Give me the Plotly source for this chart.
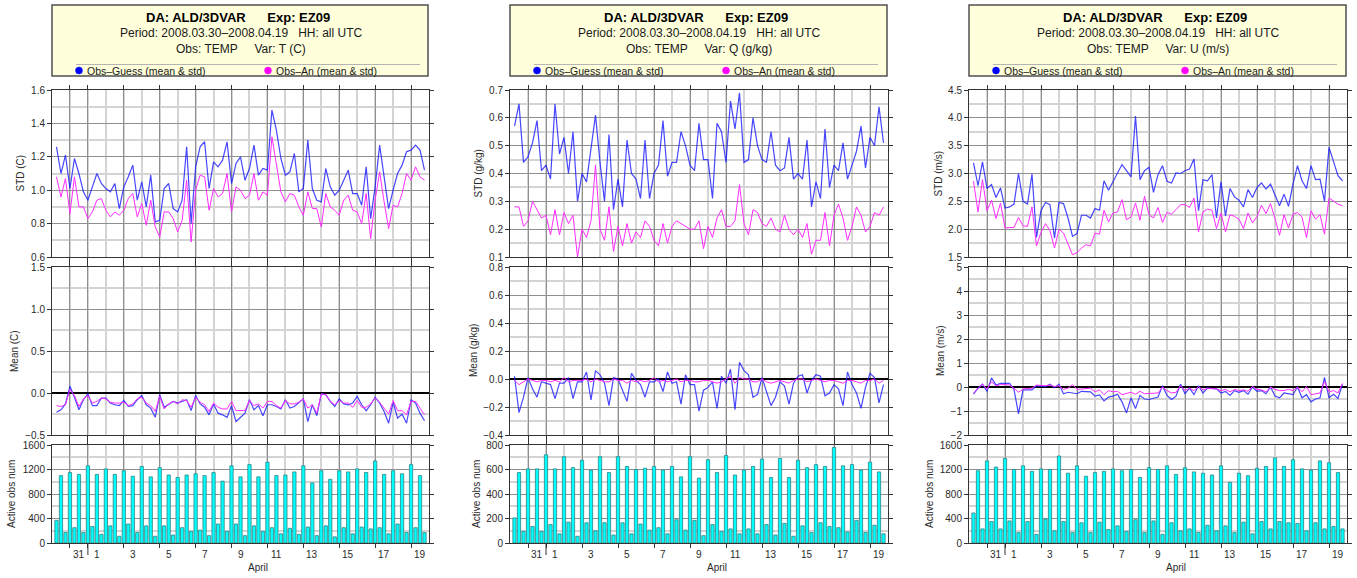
import pandas as pd
import plotly.graph_objects as go

W, H = 1357, 578
FONT = "Liberation Sans, Arial, Helvetica, sans-serif"

# 6-hourly analysis times: 2008-03-30 06 UTC .. 2008-04-19 18 UTC
times = pd.date_range("2008-03-30 06:00", "2008-04-19 18:00", freq="6h")

# ---------------- T (C) ----------------
t_std_og = [1.26, 1.10, 1.21, 1.01, 1.19, 1.10, 0.99, 0.94, 1.02, 1.10,
            1.04, 1.01, 0.99, 1.04, 0.89, 1.02, 1.08, 1.15, 0.94, 1.05,
            0.90, 1.09, 0.81, 0.82, 1.01, 1.04, 0.89, 0.87, 0.94, 1.26,
            0.80, 1.14, 1.26, 1.29, 1.01, 1.17, 1.14, 1.18, 1.29, 1.04,
            1.16, 1.20, 1.06, 1.13, 1.27, 1.09, 1.13, 1.12, 1.48, 1.36,
            1.19, 1.09, 1.11, 1.22, 0.99, 1.01, 1.30, 1.01, 0.94, 0.93,
            1.13, 1.02, 0.97, 1.00, 1.06, 1.12, 0.98, 0.98, 0.91, 1.14,
            0.83, 1.02, 1.27, 1.09, 0.89, 1.00, 1.10, 1.15, 1.23, 1.24,
            1.27, 1.24, 1.12]
t_std_oa = [1.08, 0.96, 1.07, 0.86, 1.08, 0.90, 0.90, 0.83, 0.87, 0.94,
            0.95, 0.88, 0.84, 0.87, 0.85, 0.88, 0.95, 0.98, 0.84, 0.92,
            0.79, 0.94, 0.78, 0.72, 0.87, 0.87, 0.83, 0.75, 0.82, 1.06,
            0.69, 1.00, 1.09, 1.08, 0.88, 1.01, 0.96, 0.98, 1.10, 0.87,
            1.02, 1.00, 0.95, 0.97, 1.10, 0.94, 0.99, 0.97, 1.32, 1.14,
            0.99, 0.93, 0.98, 0.97, 0.90, 0.85, 0.99, 0.89, 0.89, 0.78,
            0.98, 0.90, 0.88, 0.85, 0.94, 0.97, 0.88, 0.87, 0.80, 0.98,
            0.71, 0.94, 1.11, 0.93, 0.77, 0.91, 0.90, 0.98, 1.10, 1.06,
            1.14, 1.08, 1.06]
t_mean_og = [-0.23, -0.20, -0.13, 0.08, -0.05, -0.20, -0.08, -0.01, -0.15, -0.15,
             -0.06, -0.06, -0.12, -0.14, -0.15, -0.09, -0.16, -0.15, -0.08, -0.03,
             -0.14, -0.18, -0.29, -0.02, -0.17, -0.13, -0.10, -0.12, -0.10, -0.08,
             -0.21, -0.03, -0.13, -0.17, -0.26, -0.13, -0.24, -0.26, -0.29, -0.15,
             -0.34, -0.29, -0.24, -0.08, -0.20, -0.15, -0.27, -0.14, -0.14, -0.16,
             -0.19, -0.08, -0.18, -0.16, -0.12, -0.07, -0.34, -0.14, -0.27, -0.01,
             -0.02, -0.10, -0.16, -0.07, -0.13, -0.14, -0.12, -0.04, -0.14, -0.21,
             -0.14, -0.05, -0.12, -0.22, -0.36, -0.11, -0.30, -0.25, -0.36, -0.08,
             -0.12, -0.24, -0.33]
t_mean_oa = [-0.15, -0.16, -0.14, 0.04, -0.03, -0.16, -0.07, -0.03, -0.12, -0.10,
             -0.06, -0.07, -0.11, -0.12, -0.12, -0.11, -0.15, -0.13, -0.07, -0.05,
             -0.12, -0.15, -0.22, -0.04, -0.19, -0.13, -0.10, -0.13, -0.08, -0.09,
             -0.17, -0.05, -0.11, -0.14, -0.22, -0.12, -0.17, -0.19, -0.19, -0.10,
             -0.21, -0.21, -0.21, -0.09, -0.15, -0.13, -0.18, -0.10, -0.10, -0.15,
             -0.18, -0.09, -0.13, -0.13, -0.11, -0.07, -0.18, -0.14, -0.24, -0.01,
             -0.02, -0.10, -0.14, -0.09, -0.12, -0.12, -0.17, -0.09, -0.17, -0.17,
             -0.13, -0.06, -0.11, -0.18, -0.25, -0.09, -0.21, -0.21, -0.26, -0.10,
             -0.10, -0.18, -0.26]
t_nobs = [370, 1100, 170, 1150, 250, 1120, 170, 1260, 270, 1120,
          140, 1210, 280, 1120, 110, 1180, 310, 1090, 170, 1250,
          280, 1080, 110, 1230, 280, 1110, 130, 1070, 250, 1110,
          190, 1130, 210, 1100, 120, 1150, 310, 1010, 190, 1260,
          310, 1080, 120, 1280, 280, 1080, 190, 1320, 250, 1100,
          150, 1110, 240, 1160, 140, 1260, 260, 980, 120, 1180,
          280, 1040, 100, 1180, 250, 1160, 150, 1210, 260, 1150,
          230, 1340, 250, 1120, 150, 1180, 310, 1130, 170, 1280,
          250, 1100, 170]

# ---------------- Q (g/kg) ----------------
q_std_og = [0.57, 0.65, 0.44, 0.46, 0.51, 0.59, 0.41, 0.43, 0.38, 0.65,
            0.47, 0.53, 0.40, 0.55, 0.30, 0.40, 0.37, 0.50, 0.61, 0.44,
            0.30, 0.54, 0.27, 0.38, 0.28, 0.52, 0.40, 0.38, 0.31, 0.52,
            0.31, 0.40, 0.43, 0.59, 0.39, 0.44, 0.44, 0.55, 0.50, 0.43,
            0.41, 0.58, 0.45, 0.45, 0.31, 0.58, 0.55, 0.44, 0.66, 0.56,
            0.69, 0.44, 0.45, 0.60, 0.50, 0.45, 0.44, 0.55, 0.43, 0.41,
            0.42, 0.53, 0.38, 0.40, 0.38, 0.52, 0.28, 0.37, 0.31, 0.56,
            0.35, 0.43, 0.41, 0.51, 0.38, 0.43, 0.48, 0.57, 0.42, 0.53,
            0.50, 0.64, 0.51]
q_std_oa = [0.28, 0.28, 0.21, 0.23, 0.30, 0.27, 0.24, 0.25, 0.18, 0.27,
            0.18, 0.26, 0.22, 0.25, 0.10, 0.20, 0.17, 0.23, 0.43, 0.20,
            0.16, 0.28, 0.12, 0.21, 0.14, 0.22, 0.15, 0.19, 0.17, 0.23,
            0.21, 0.16, 0.14, 0.22, 0.15, 0.21, 0.23, 0.22, 0.21, 0.20,
            0.20, 0.23, 0.13, 0.21, 0.17, 0.24, 0.27, 0.21, 0.21, 0.23,
            0.36, 0.22, 0.18, 0.27, 0.26, 0.22, 0.21, 0.24, 0.20, 0.19,
            0.25, 0.20, 0.18, 0.20, 0.17, 0.22, 0.11, 0.16, 0.16, 0.26,
            0.14, 0.25, 0.29, 0.24, 0.16, 0.21, 0.28, 0.25, 0.19, 0.21,
            0.26, 0.25, 0.28]
q_mean_og = [0.02, -0.24, -0.13, 0.01, -0.07, -0.13, -0.02, -0.03, -0.04, -0.14,
             -0.03, -0.03, 0.01, -0.14, -0.02, -0.02, 0.05, -0.15, 0.06, 0.03,
             -0.03, -0.19, 0.01, 0.00, -0.08, -0.16, 0.04, -0.01, -0.04, -0.13,
             -0.02, -0.02, 0.00, -0.09, 0.05, -0.03, -0.02, -0.18, 0.03, -0.04,
             -0.04, -0.23, -0.08, -0.06, -0.02, -0.21, 0.02, -0.03, 0.07, -0.22,
             0.12, 0.06, 0.03, -0.13, -0.11, 0.01, -0.09, -0.19, -0.13, -0.02,
             -0.05, -0.18, -0.03, 0.02, 0.03, -0.10, -0.01, 0.03, 0.02, -0.12,
             -0.10, -0.04, -0.07, -0.19, 0.05, -0.04, -0.10, -0.21, -0.06, 0.04,
             0.01, -0.17, -0.04]
q_mean_oa = [-0.01, -0.04, -0.02, 0.00, -0.01, -0.02, -0.01, -0.01, -0.02, -0.01,
             -0.02, 0.01, -0.02, -0.01, -0.01, -0.01, 0.00, -0.02, 0.00, -0.01,
             -0.02, -0.02, 0.00, -0.01, -0.01, -0.03, -0.01, -0.02, -0.01, -0.02,
             -0.01, 0.01, -0.02, -0.01, -0.02, -0.01, 0.00, -0.02, -0.01, -0.01,
             -0.02, -0.02, -0.01, -0.01, -0.02, -0.03, -0.02, 0.00, 0.02, -0.03,
             0.01, 0.00, 0.00, -0.02, -0.02, 0.00, -0.02, -0.03, -0.02, -0.01,
             -0.02, -0.03, -0.01, 0.00, 0.00, -0.02, -0.01, 0.00, -0.01, -0.02,
             -0.01, -0.01, -0.02, -0.03, -0.01, -0.01, -0.02, -0.03, -0.01, -0.01,
             0.00, -0.03, -0.01]
q_nobs = [205, 575, 95, 605, 135, 605, 95, 720, 150, 605,
          75, 705, 170, 615, 55, 675, 165, 595, 100, 705,
          165, 575, 65, 705, 165, 625, 75, 600, 155, 610,
          105, 625, 125, 595, 75, 625, 190, 540, 105, 705,
          185, 530, 60, 680, 150, 575, 95, 715, 115, 555,
          75, 595, 115, 625, 75, 685, 150, 535, 65, 690,
          160, 535, 55, 675, 140, 615, 85, 640, 165, 625,
          135, 780, 125, 630, 90, 640, 185, 595, 85, 660,
          145, 580, 75]

# ---------------- U (m/s) ----------------
u_std_og = [3.19, 2.78, 3.21, 2.73, 2.80, 2.57, 2.74, 2.38, 2.40, 2.45,
            3.00, 2.50, 2.45, 2.99, 1.85, 2.33, 2.48, 2.44, 1.84, 2.48,
            2.46, 2.20, 1.87, 1.92, 2.25, 2.25, 2.20, 2.37, 2.34, 2.87,
            2.70, 2.85, 3.00, 3.16, 3.05, 2.94, 4.03, 2.89, 3.05, 3.11,
            2.66, 2.98, 3.14, 2.86, 2.83, 3.01, 3.00, 3.05, 3.08, 3.26,
            2.33, 2.89, 2.87, 2.98, 2.20, 2.85, 2.24, 2.73, 2.58, 2.52,
            2.40, 2.71, 2.57, 2.75, 2.83, 2.72, 2.81, 2.62, 2.42, 2.63,
            2.41, 2.81, 3.14, 2.87, 2.73, 3.14, 2.89, 2.90, 2.50, 3.47,
            3.22, 2.96, 2.87]
u_std_oa = [2.86, 2.31, 2.89, 2.33, 2.52, 2.19, 2.47, 2.02, 2.03, 2.03,
            2.21, 2.06, 2.05, 2.40, 1.70, 1.94, 2.10, 1.97, 1.66, 2.00,
            1.93, 1.75, 1.54, 1.58, 1.66, 1.72, 1.70, 1.93, 1.91, 2.34,
            2.13, 2.29, 2.31, 2.53, 2.17, 2.22, 2.47, 2.16, 2.59, 2.26,
            2.20, 2.39, 2.12, 2.30, 2.27, 2.35, 2.44, 2.44, 2.39, 2.56,
            1.95, 2.31, 2.36, 2.34, 2.01, 2.29, 1.95, 2.26, 2.23, 2.18,
            2.01, 2.29, 2.11, 2.23, 2.43, 2.28, 2.46, 2.19, 1.89, 2.26,
            2.02, 2.27, 2.30, 2.22, 1.85, 2.33, 2.18, 2.26, 1.91, 2.56,
            2.51, 2.45, 2.42]
u_mean_og = [-0.30, -0.05, 0.12, -0.18, 0.38, 0.08, 0.15, 0.15, 0.15, -0.10,
             -1.12, -0.12, -0.12, -0.12, 0.05, 0.03, 0.02, 0.12, -0.03, 0.12,
             -0.28, -0.22, -0.25, -0.28, -0.18, -0.18, -0.20, -0.38, -0.33, -0.58,
             -0.42, -0.38, -0.30, -0.62, -1.08, -0.45, -0.90, -0.35, -0.50, -0.52,
             -0.48, -0.42, 0.05, -0.35, -0.52, -0.38, 0.12, -0.28, -0.05, -0.32,
             0.05, -0.25, -0.05, -0.08, -0.08, -0.25, -0.18, -0.35, -0.15, -0.22,
             -0.15, -0.30, 0.00, -0.18, -0.15, -0.28, 0.00, -0.38, -0.45, -0.25,
             -0.28, -0.32, 0.00, -0.45, -0.32, -0.62, -0.50, -0.45, 0.40, -0.45,
             -0.30, -0.48, 0.12]
u_mean_oa = [-0.25, -0.05, 0.12, -0.10, 0.22, 0.05, 0.10, 0.10, 0.08, -0.05,
             -0.22, -0.08, -0.08, -0.05, 0.08, 0.05, 0.05, 0.08, 0.02, 0.05,
             -0.10, -0.05, 0.10, -0.10, -0.08, -0.05, -0.05, -0.20, -0.12, -0.32,
             -0.15, -0.20, -0.18, -0.32, -0.28, -0.22, -0.30, -0.18, -0.28, -0.28,
             -0.25, -0.25, 0.00, -0.15, -0.25, -0.22, 0.05, -0.15, -0.05, -0.15,
             0.02, -0.12, -0.05, -0.05, -0.08, -0.15, -0.10, -0.20, -0.10, -0.15,
             -0.12, -0.18, 0.02, -0.10, -0.12, -0.20, 0.00, -0.10, -0.15, -0.15,
             -0.10, -0.15, 0.00, -0.20, 0.02, -0.32, -0.28, -0.25, 0.22, -0.20,
             -0.15, -0.25, 0.15]
u_nobs = [490, 1180, 230, 1340, 350, 1240, 230, 1380, 360, 1200,
          170, 1260, 350, 1170, 140, 1210, 390, 1200, 200, 1420,
          350, 1140, 170, 1260, 330, 1090, 170, 1150, 340, 1170,
          220, 1210, 280, 1180, 190, 1200, 380, 1070, 170, 1230,
          360, 1200, 140, 1260, 330, 1120, 200, 1230, 230, 1160,
          170, 1140, 290, 1110, 200, 1260, 280, 990, 170, 1140,
          340, 1100, 150, 1220, 350, 1250, 230, 1390, 350, 1250,
          330, 1360, 320, 1210, 200, 1190, 330, 1340, 230, 1310,
          270, 1150, 230]

# day ticks on the time axis and their labels
tick_days = ["2008-03-31", "2008-04-01"] + [f"2008-04-{d:02d}" for d in range(3, 20, 2)]
tick_labels = ["31", "1"] + [str(d) for d in range(3, 20, 2)]

# ---------------- styling ----------------
BLUE = "rgba(25,25,255,0.80)"
MAGENTA = "#ff2bff"
MAJOR_GRID = "#8f8f8f"
MINOR_GRID = "#d4d4d4"
AXIS = "#333333"
TXT = "#2a2a2a"

panels = [
    dict(var="T (C)", unit="C",
         series=((t_std_og, t_std_oa), (t_mean_og, t_mean_oa), t_nobs),
         axes=((0.6, 1.6, 0.2, 0.1, ".1f"), (-0.5, 1.5, 0.5, 0.25, ".1f"), (0, 1600, 400, 200, "d")),
         left=52, right=429, title_off=(32, 38, 41)),
    dict(var="Q (g/kg)", unit="g/kg",
         series=((q_std_og, q_std_oa), (q_mean_og, q_mean_oa), q_nobs),
         axes=((0.1, 0.7, 0.1, 0.05, ".1f"), (-0.4, 0.8, 0.2, 0.1, ".1f"), (0, 800, 200, 100, "d")),
         left=510, right=888, title_off=(32, 37, 34)),
    dict(var="U (m/s)", unit="m/s",
         series=((u_std_og, u_std_oa), (u_mean_og, u_mean_oa), u_nobs),
         axes=((1.5, 4.5, 0.5, 0.25, ".1f"), (-2, 5, 1, 0.5, "d"), (0, 1600, 400, 200, "d")),
         left=969, right=1347, title_off=(31, 29, 40)),
]
rows = [(90, 257), (267, 435), (445, 543)]


def px(x):
    return x / W


def py(y):
    return 1 - y / H


fig = go.Figure()
layout = dict(
    width=W, height=H, margin=dict(l=0, r=0, t=0, b=0),
    paper_bgcolor="white", plot_bgcolor="white", template="none",
    showlegend=False, bargap=0.27,
    font=dict(family=FONT, size=10, color=TXT),
)
shapes, annotations = [], []
x_start, x_end = "2008-03-30 00:00", "2008-04-20 00:00"

for p, pan in enumerate(panels):
    L, R = pan["left"], pan["right"]
    for r, (top, bot) in enumerate(rows):
        k = 3 * p + r + 1
        sfx = "" if k == 1 else str(k)
        xa, ya = "x" + sfx, "y" + sfx
        lo, hi, dt, mdt, fmt = pan["axes"][r]
        eps = (hi - lo) * 1e-6
        layout["xaxis" + sfx] = dict(
            type="date", domain=[px(L), px(R)], anchor=ya, range=[x_start, x_end],
            tickmode="array", tickvals=tick_days, showticklabels=False,
            ticks="outside", ticklen=4, tickcolor=AXIS, tickwidth=1,
            showline=True, linecolor=AXIS, linewidth=1, mirror="ticks",
            showgrid=True, gridcolor=MAJOR_GRID, gridwidth=1, zeroline=False,
            minor=dict(tickmode="linear", tick0="2008-03-30", dtick=86400000,
                       showgrid=True, gridcolor=MINOR_GRID, gridwidth=1.5, ticks=""),
        )
        layout["yaxis" + sfx] = dict(
            domain=[py(bot), py(top)], anchor=xa, range=[lo - eps, hi + eps],
            tickmode="linear", tick0=lo, dtick=dt, tickformat=fmt,
            ticks="outside", ticklen=4, tickcolor=AXIS, tickwidth=1,
            tickfont=dict(family=FONT, size=10, color=TXT),
            showline=True, linecolor=AXIS, linewidth=1, mirror="ticks",
            showgrid=True, gridcolor=MAJOR_GRID, gridwidth=1,
            zeroline=(r == 1), zerolinecolor="black", zerolinewidth=2,
            minor=dict(tickmode="linear", tick0=lo, dtick=mdt,
                       showgrid=True, gridcolor=MINOR_GRID, gridwidth=1.5, ticks=""),
        )
        if r < 2:
            og, oa = pan["series"][r]
            fig.add_trace(go.Scatter(x=times, y=og, mode="lines", xaxis=xa, yaxis=ya,
                                     line=dict(color=BLUE, width=1.2), name="Obs–Guess"))
            fig.add_trace(go.Scatter(x=times, y=oa, mode="lines", xaxis=xa, yaxis=ya,
                                     line=dict(color=MAGENTA, width=1), name="Obs–An"))
        else:
            fig.add_trace(go.Bar(x=times, y=pan["series"][2], xaxis=xa, yaxis=ya,
                                 marker=dict(color="#00ffff", line=dict(color="#2c8484", width=0.8)),
                                 name="Active obs num"))
            # day labels under the bottom axis, centred on each day
            for d, lab in zip(tick_days, tick_labels):
                annotations.append(dict(
                    x=pd.Timestamp(d) + pd.Timedelta(hours=12), xref=xa, y=py(554), yref="paper",
                    text=lab, showarrow=False, font=dict(size=10, color=TXT),
                    xanchor="center", yanchor="middle"))
            annotations.append(dict(
                x=pd.Timestamp("2008-04-10 12:00"), xref=xa, y=py(567), yref="paper",
                text="April", showarrow=False, font=dict(size=10, color=TXT),
                xanchor="center", yanchor="middle"))
            # month boundary marker
            shapes.append(dict(type="line", xref=xa, yref="paper",
                               x0="2008-04-01", x1="2008-04-01", y0=py(543), y1=py(555),
                               line=dict(color=AXIS, width=1)))
        # y-axis titles
        ytitle = ["STD (%s)" % pan["unit"], "Mean (%s)" % pan["unit"], "Active obs num"][r]
        annotations.append(dict(
            x=px(L - pan["title_off"][r]), xref="paper", y=py((top + bot) / 2), yref="paper",
            text=ytitle, textangle=-90, showarrow=False,
            font=dict(size=10, color=TXT), xanchor="center", yanchor="middle"))

    # header box
    shapes.append(dict(type="rect", xref="paper", yref="paper",
                       x0=px(L), x1=px(R - 1), y0=py(76), y1=py(5),
                       fillcolor="#ffffdc", line=dict(color="#505050", width=1.5), layer="above"))
    shapes.append(dict(type="line", xref="paper", yref="paper",
                       x0=px(L + 24), x1=px(L + 368), y0=py(64.5), y1=py(64.5),
                       line=dict(color="#b4b4b4", width=1), layer="above"))
    cx = (L + R) / 2
    nb = "\u00a0"
    annotations.append(dict(x=px(cx - 3), y=py(17), xref="paper", yref="paper", showarrow=False,
                            text="<b>DA: ALD/3DVAR" + nb * 6 + "Exp: EZ09</b>",
                            font=dict(size=13, color="black"), xanchor="center", yanchor="middle"))
    annotations.append(dict(x=px(cx), y=py(33), xref="paper", yref="paper", showarrow=False,
                            text="Period: 2008.03.30–2008.04.19" + nb * 3 + "HH: all UTC",
                            font=dict(size=12, color="#1a1a1a"), xanchor="center", yanchor="middle"))
    annotations.append(dict(x=px(cx), y=py(49), xref="paper", yref="paper", showarrow=False,
                            text="Obs: TEMP" + nb * 5 + "Var: " + pan["var"],
                            font=dict(size=12, color="#1a1a1a"), xanchor="center", yanchor="middle"))
    for off, col, lab in ((27, "#0000ff", "Obs–Guess (mean & std)"),
                          (216, "#ff00ff", "Obs–An (mean & std)")):
        shapes.append(dict(type="circle", xref="paper", yref="paper",
                           xsizemode="pixel", ysizemode="pixel",
                           xanchor=px(L + off), yanchor=py(70.5),
                           x0=-3.5, x1=3.5, y0=-3.5, y1=3.5,
                           fillcolor=col, line=dict(color=col, width=0.5), layer="above"))
        annotations.append(dict(x=px(L + off + 6), y=py(71), xref="paper", yref="paper",
                                showarrow=False, text=lab, font=dict(size=10.5, color="#1a1a1a"),
                                xanchor="left", yanchor="middle"))

layout["shapes"] = shapes
layout["annotations"] = annotations
fig.update_layout(**layout)
fig.update_traces(hoverinfo="skip")
fig.write_html("out.html")
